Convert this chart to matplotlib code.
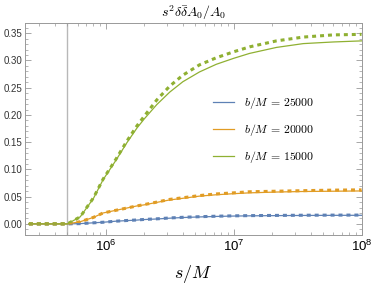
import numpy as np
import matplotlib
matplotlib.use("Agg")
import matplotlib.pyplot as plt
from matplotlib.ticker import LogLocator, MultipleLocator, NullFormatter

plt.rcParams['mathtext.fontset'] = 'cm'
plt.rcParams['font.family'] = ['Liberation Sans', 'DejaVu Sans']

# data
s = np.array([2.5e5, 5e5, 6.3e5, 8e5, 9.5e5, 1.2e6, 1.45e6, 1.75e6, 2e6, 2.5e6,
              3.16e6, 4e6, 5.4e6, 7.3e6, 1e7, 1.33e7, 2.16e7, 3.5e7, 6e7, 1e8])

green_solid = [0, 0, 0.013, 0.047, 0.081, 0.117, 0.148, 0.176, 0.193, 0.219,
               0.242, 0.261, 0.279, 0.293, 0.304, 0.313, 0.324, 0.331, 0.334, 0.336]
green_dash = [0, 0, 0.013, 0.048, 0.082, 0.119, 0.151, 0.180, 0.198, 0.2275,
              0.253, 0.273, 0.292, 0.305, 0.316, 0.325, 0.336, 0.343, 0.347, 0.348]
orange_solid = [0, 0, 0.004, 0.012, 0.020, 0.025, 0.029, 0.033, 0.035, 0.0395,
                0.044, 0.047, 0.051, 0.0535, 0.0555, 0.057, 0.0585, 0.0595, 0.060, 0.0605]
orange_dash = [0, 0, 0.004, 0.012, 0.020, 0.025, 0.029, 0.033, 0.0355, 0.040,
               0.045, 0.048, 0.052, 0.055, 0.057, 0.059, 0.060, 0.061, 0.062, 0.0625]
blue_solid = [0, 0, 0.0005, 0.002, 0.003, 0.005, 0.006, 0.007, 0.008, 0.009,
              0.0105, 0.0117, 0.0128, 0.0137, 0.0144, 0.0148, 0.0152, 0.0155, 0.0157, 0.0158]
blue_dash = [0, 0, 0.0005, 0.002, 0.003, 0.005, 0.0062, 0.0072, 0.0082, 0.0093,
             0.0109, 0.0121, 0.0132, 0.0141, 0.0148, 0.0152, 0.0156, 0.0159, 0.0161, 0.0162]

labels = ["$b/M\\,=\\,25000$", "$b/M\\,=\\,20000$", "$b/M\\,=\\,15000$"]
colors = ["#5E81B5", "#E19C24", "#8FB032"]
s_line = 5e5

fig = plt.figure(figsize=(3.73, 2.90), dpi=100)
ax = fig.add_axes([0.067, 0.19, 0.904, 0.731])

ax.axvline(s_line, color="#b8b8b8", lw=1.0, zorder=1)

series = [(blue_solid, blue_dash), (orange_solid, orange_dash), (green_solid, green_dash)]
for (sol, das), c, lab in zip(series, colors, labels):
    ax.plot(s, sol, color=c, lw=0.9, label=lab, zorder=3)
    ax.plot(s, das, color=c, lw=2.2, ls=(0, (1.3, 1.3)), zorder=2)

ax.set_xscale("log")
ax.set_xlim(10**(6 - 81/128), 10**(8.005))
ax.set_ylim(-0.0202, 0.369)

ax.xaxis.set_major_locator(LogLocator(base=10, numticks=10))
ax.xaxis.set_minor_locator(LogLocator(base=10, subs=np.arange(2, 10), numticks=20))
ax.xaxis.set_minor_formatter(NullFormatter())
ax.yaxis.set_major_locator(MultipleLocator(0.05))
ax.yaxis.set_minor_locator(MultipleLocator(0.01))
ax.yaxis.set_major_formatter(plt.FuncFormatter(lambda v, p: f"{v:.2f}"))

ax.tick_params(which="both", direction="in", top=True, right=True, color="#999999")
ax.tick_params(which="major", length=4, width=0.6)
ax.tick_params(which="minor", length=2, width=0.5)
ax.tick_params(axis="y", labelsize=7, colors="#333333", pad=2)
ax.tick_params(axis="x", labelsize=9.5, pad=3)
ax.tick_params(axis="y", which="both", color="#999999")
for sp in ax.spines.values():
    sp.set_color("#999999")
    sp.set_linewidth(0.7)

ax.set_title(r"$s^2\delta\bar{\delta}A_0/A_0$", fontsize=10, pad=4)
ax.set_xlabel(r"$s/M$", fontsize=13, labelpad=6)

leg = ax.legend(loc="upper left", bbox_to_anchor=(0.558, 0.66), frameon=False,
                fontsize=8.5, handlelength=1.8, labelspacing=0.95, handletextpad=0.8,
                borderpad=0, borderaxespad=0)

fig.savefig("out.png", dpi=100)
